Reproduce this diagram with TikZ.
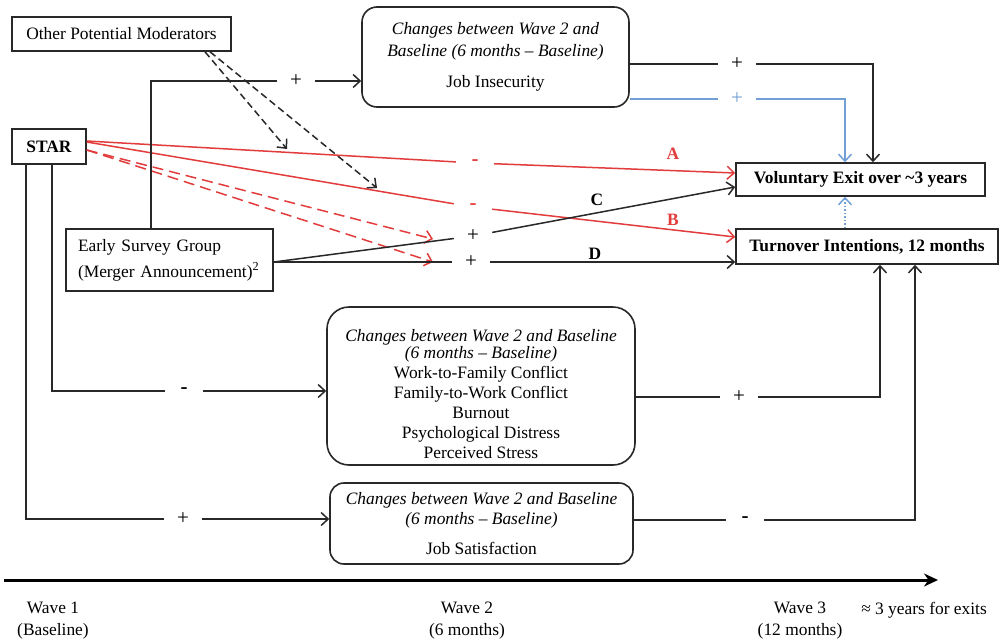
\documentclass[tikz,border=0pt]{standalone}
\usepackage{fontspec}
\setmainfont{Liberation Serif}
\usetikzlibrary{arrows.meta}
\definecolor{myred}{RGB}{226,60,60}
\definecolor{myblue}{RGB}{115,160,212}
\definecolor{myline}{RGB}{40,40,40}
\begin{document}
\begin{tikzpicture}[x=1pt,y=-1pt,
  font=\fontsize{17.4}{20}\selectfont,
  every node/.style={inner sep=0pt},
  box/.style={draw=myline, line width=1.6pt, inner sep=0pt, align=center},
  boldtxt/.style={font=\fontsize{17.4}{20}\selectfont\bfseries},
  signtxt/.style={font=\fontsize{21}{22}\selectfont},
  conn/.style={draw=myline, line width=1.5pt},
  redl/.style={draw=myred, line width=1.5pt},
  bluel/.style={draw=myblue, line width=1.5pt},
  tip/.style={-{Straight Barb[length=7pt,width=13pt]}},
  dashk/.style={conn, dash pattern=on 7pt off 4pt},
  dashr/.style={redl, dash pattern=on 11pt off 6pt},
  sign/.style={signtxt, minimum width=38pt, minimum height=16pt},
]
\fill[white] (0,0) rectangle (999,643);
\useasboundingbox (0,0) rectangle (999,643);

% boxes
\node[box, minimum width=219pt, minimum height=34pt] (other) at (121.5,34) {Other Potential Moderators};
\node[box, boldtxt, minimum width=74pt, minimum height=35pt] (star) at (49,146.5) {STAR};
\node[box, minimum width=207pt, minimum height=62pt, text width=183pt, align=left] (esg) at (169.5,260)
  {Early Survey Group\\[6pt](Merger Announcement)\textsuperscript{2}};
\node[box, rounded corners=15pt, minimum width=267pt, minimum height=100pt] (jobins) at (495.5,57)
  {\textit{Changes between Wave 2 and}\\[2pt]\textit{Baseline (6 months -- Baseline)}\\[11pt]Job Insecurity};
\node[box, boldtxt, minimum width=249pt, minimum height=33pt] (vol) at (860.5,179.5) {Voluntary Exit over \textasciitilde3 years};
\node[box, boldtxt, minimum width=262pt, minimum height=35pt] (turn) at (867,246.5) {Turnover Intentions, 12 months};
\node[box, rounded corners=22pt, minimum width=308pt, minimum height=158pt] (mid) at (481,386)
  {\rule{0pt}{28pt}\textit{Changes between Wave 2 and Baseline}\\[-3pt]\textit{(6 months -- Baseline)}\\Work-to-Family Conflict\\Family-to-Work Conflict\\Burnout\\Psychological Distress\\Perceived Stress};
\node[box, rounded corners=14pt, minimum width=303pt, minimum height=81pt] (bot) at (481.5,523.5)
  {\textit{Changes between Wave 2 and Baseline}\\\textit{(6 months -- Baseline)}\\[10pt]Job Satisfaction};

% sign nodes
\node[sign, font=\fontsize{21}{22}\selectfont\bfseries, text=myred] (sA) at (475,163) {-};
\node[sign, font=\fontsize{21}{22}\selectfont\bfseries, text=myred] (sB) at (473,207) {-};
\node[sign] (sC) at (473,236) {+};
\node[sign] (sD) at (471,262) {+};
\node[sign] (sJ) at (296,81) {+};
\node[sign] (sJI) at (737,64) {+};
\node[sign, text=myblue] (sJB) at (737,99) {+};
\node[sign, font=\fontsize{21}{22}\selectfont\bfseries] (sSm) at (184,391) {-};
\node[sign] (sSb) at (183,519) {+};
\node[sign] (sM) at (739,397) {+};
\node[sign, font=\fontsize{21}{22}\selectfont\bfseries] (sBt) at (745,520) {-};

% path labels
\node[boldtxt, text=myred] (lA) at (673,154) {A};
\node[boldtxt, text=myred] (lB) at (673,220) {B};
\node[boldtxt] (lC) at (597,200) {C};
\node[boldtxt] (lD) at (595,254) {D};

% free ends
\coordinate (m1) at (287,149);
\coordinate (m2) at (377,188);
\coordinate (r1) at (433,239);
\coordinate (r2) at (433,262);
\coordinate (t0) at (4,580);
\coordinate (t1) at (938,580);

% moderators
\draw[dashk, tip] ([xshift=83.5pt]other.south) -- (m1);
\draw[dashk, tip] ([xshift=88.5pt]other.south) -- (m2);

% STAR paths
\draw[redl] ([yshift=5.5pt]star.east) -- (sA);
\draw[redl, tip] (sA) -- ([yshift=6.5pt]vol.west);
\draw[redl] ([yshift=4.5pt]star.east) -- (sB);
\draw[redl, tip] (sB) -- ([yshift=9.5pt]turn.west);
\draw[dashr, tip] ([yshift=-3.5pt]star.east) -- (r1);
\draw[dashr, tip] ([yshift=-3.5pt]star.east) -- (r2);

% Early survey group paths
\draw[conn] ([yshift=-2pt]esg.east) -- (sC);
\draw[conn, tip] (sC) -- ([yshift=-7.5pt]vol.west);
\draw[conn] ([yshift=-2pt]esg.east) -- (sD);
\draw[conn, tip] (sD) -- (sD -| turn.west);
\draw[conn] ([xshift=-18.5pt]esg.north) |- (sJ);
\draw[conn, tip] (sJ) -- (sJ -| jobins.west);

% job insecurity to exit
\draw[conn] ([yshift=-7pt]jobins.east) -- (sJI);
\draw[conn, tip] (sJI) -| ([xshift=12.5pt]vol.north);
\draw[bluel] ([yshift=-42pt]jobins.east) -- (sJB);
\draw[bluel, tip] (sJB) -| ([xshift=-15.5pt]vol.north);
\draw[bluel, dotted, tip] ([xshift=-22pt]turn.north) -- ([xshift=-15.5pt]vol.south);

% STAR to wave-2 changes
\draw[conn] ([xshift=3pt]star.south) |- (sSm);
\draw[conn, tip] (sSm) -- (sSm -| mid.west);
\draw[conn] ([xshift=-23pt]star.south) |- (sSb);
\draw[conn, tip] (sSb) -- (sSb -| bot.west);

% wave-2 changes to turnover
\draw[conn] ([yshift=-11pt]mid.east) -- (sM);
\draw[conn, tip] (sM) -| ([xshift=13pt]turn.south);
\draw[conn] ([yshift=3.5pt]bot.east) -- (sBt);
\draw[conn, tip] (sBt) -| ([xshift=48pt]turn.south);

% timeline
\draw[line width=3pt, -{Stealth[length=14pt,width=13pt]}] (t0) -- (t1);
\node[align=center] (w1) at (53,621) {Wave 1\\[2pt](Baseline)};
\node[align=center] (w2) at (467,621) {Wave 2\\[2pt](6 months)};
\node[align=center] (w3) at (800,621) {Wave 3\\[2pt](12 months)};
\node (w4) at (924,610) {≈ 3 years for exits};
\end{tikzpicture}
\end{document}
